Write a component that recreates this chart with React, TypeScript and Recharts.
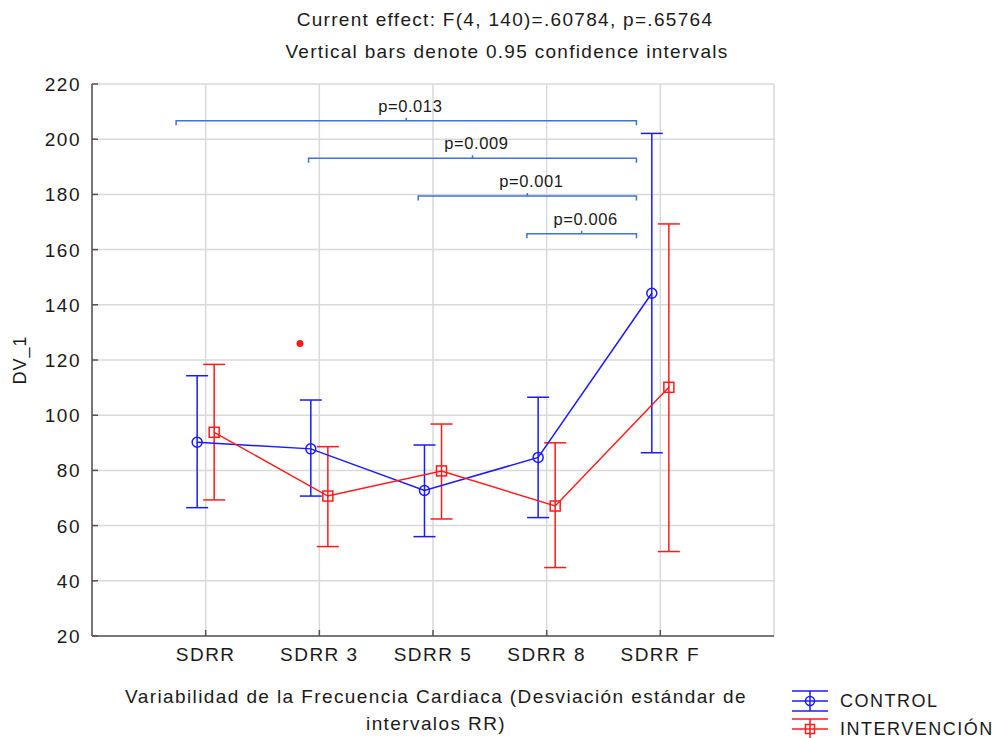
import {
  ComposedChart,
  Scatter,
  ErrorBar,
  XAxis,
  YAxis,
  CartesianGrid,
  ReferenceLine,
} from "recharts"

const categories = ["SDRR", "SDRR 3", "SDRR 5", "SDRR 8", "SDRR F"]
const categoryPos = [1, 2, 3, 4, 5]

const controlMean = [90.2, 87.8, 72.7, 84.7, 144.2]
const controlLow = [66.5, 70.7, 56, 62.9, 86.4]
const controlHigh = [114.3, 105.5, 89.2, 106.5, 202.1]

const intervMean = [93.8, 70.7, 79.8, 67.1, 110.1]
const intervLow = [69.3, 52.4, 62.4, 44.8, 50.6]
const intervHigh = [118.4, 88.6, 96.8, 90, 169.3]

// stray point next to SDRR 3
const outlierX = [1.83]
const outlierY = [126]

const bracketLabels = ["p=0.013", "p=0.009", "p=0.001", "p=0.006"]
const bracketFrom = [0.74, 1.905, 2.87, 3.826]
const bracketTo = [4.79, 4.79, 4.79, 4.79]
const bracketLevel = [206.7, 193.1, 179.4, 165.7]

const yTicks = [20, 40, 60, 80, 100, 120, 140, 160, 180, 200, 220]

const BLUE = "#1a1aff"
const RED = "#ff1a1a"
const BRACKET = "#3f72d6"
const FRAME = "#555555"
const FONT = '"Liberation Sans", Arial, sans-serif'

const groupOffset = 0.075

const controlData = categoryPos.map((p, i) => ({
  x: p - groupOffset,
  y: controlMean[i],
  err: [controlMean[i] - controlLow[i], controlHigh[i] - controlMean[i]],
}))

const intervData = categoryPos.map((p, i) => ({
  x: p + groupOffset,
  y: intervMean[i],
  err: [intervMean[i] - intervLow[i], intervHigh[i] - intervMean[i]],
}))

const outlierData = outlierX.map((x, i) => ({ x, y: outlierY[i] }))

const tickFont = {
  fontSize: 19,
  fill: "#1a1a1a",
  fontFamily: FONT,
  letterSpacing: 1.5,
}

// ticks point into the plot, labels sit outside
function BottomTick(props: any) {
  const { x, y, payload } = props
  const label = categories[categoryPos.indexOf(payload.value)] ?? ""
  return (
    <g>
      <line x1={x} y1={y - 10} x2={x} y2={y - 16} stroke={FRAME} strokeWidth={1.5} />
      <text x={x} y={y + 15} textAnchor="middle" {...tickFont}>
        {label}
      </text>
    </g>
  )
}

function LeftTick(props: any) {
  const { x, y, payload } = props
  return (
    <g>
      <line x1={x + 11} y1={y} x2={x + 17} y2={y} stroke={FRAME} strokeWidth={1.5} />
      <text x={x} y={y + 7} textAnchor="end" {...tickFont}>
        {payload.value}
      </text>
    </g>
  )
}

function TopTick(props: any) {
  const { x, y } = props
  return <line x1={x} y1={y} x2={x} y2={y + 6} stroke={FRAME} strokeWidth={1.5} />
}

function RightTick(props: any) {
  const { x, y } = props
  return <line x1={x} y1={y} x2={x - 5} y2={y} stroke={FRAME} strokeWidth={1.5} />
}

function CircleMark(props: any) {
  const { cx, cy } = props
  return <circle cx={cx} cy={cy} r={5} fill="none" stroke={BLUE} strokeWidth={1.5} />
}

function SquareMark(props: any) {
  const { cx, cy } = props
  return (
    <rect x={cx - 5} y={cy - 5} width={10} height={10} fill="none" stroke={RED} strokeWidth={1.5} />
  )
}

function DotMark(props: any) {
  const { cx, cy } = props
  return <circle cx={cx} cy={cy} r={3.5} fill={RED} />
}

function Bracket(props: any) {
  const { x1, y1, x2 } = props
  const mid = (x1 + x2) / 2
  return (
    <path
      d={`M${x1},${y1 + 4.5} L${x1},${y1} L${x2},${y1} L${x2},${y1 + 4.5} M${mid},${y1} L${mid},${y1 - 3}`}
      fill="none"
      stroke={BRACKET}
      strokeWidth={1.5}
    />
  )
}

function LegendSymbol({ color, kind }: { color: string; kind: "circle" | "square" }) {
  return (
    <svg width={38} height={24} style={{ display: "block" }}>
      <line x1={1} y1={2} x2={37} y2={2} stroke={color} strokeWidth={1.5} />
      <line x1={1} y1={22} x2={37} y2={22} stroke={color} strokeWidth={1.5} />
      <line x1={19} y1={2} x2={19} y2={22} stroke={color} strokeWidth={1.5} />
      <line x1={1} y1={12} x2={37} y2={12} stroke={color} strokeWidth={1.5} />
      {kind === "circle" ? (
        <circle cx={19} cy={12} r={4.5} fill="none" stroke={color} strokeWidth={1.5} />
      ) : (
        <rect x={14.5} y={7.5} width={9} height={9} fill="none" stroke={color} strokeWidth={1.5} />
      )}
    </svg>
  )
}

const textBase = {
  position: "absolute" as const,
  fontFamily: FONT,
  color: "#1a1a1a",
  whiteSpace: "nowrap" as const,
  lineHeight: 1,
}

export default function App() {
  return (
    <div style={{ position: "absolute", left: 0, top: 0, width: 1002, height: 738, background: "#fff" }}>
      <div style={{ ...textBase, left: 0, width: 1010, top: 10, textAlign: "center", fontSize: 19, letterSpacing: 1.3 }}>
        Current effect: F(4, 140)=.60784, p=.65764
      </div>
      <div style={{ ...textBase, left: 0, width: 1014, top: 42, textAlign: "center", fontSize: 19, letterSpacing: 1.3 }}>
        Vertical bars denote 0.95 confidence intervals
      </div>

      <div style={{ position: "absolute", left: 0, top: 0 }}>
        <ComposedChart
          width={1002}
          height={738}
          margin={{ top: 84, right: 228, bottom: 62, left: 32 }}
        >
          <CartesianGrid stroke="#d9d9d9" strokeWidth={1.5} />
          <XAxis
            xAxisId={0}
            type="number"
            dataKey="x"
            domain={[0, 6]}
            ticks={categoryPos}
            height={40}
            stroke={FRAME}
            strokeWidth={1.5}
            tickLine={false}
            tickSize={0}
            tickMargin={10}
            tick={BottomTick}
            allowDataOverflow
          />
          <XAxis
            xAxisId="top"
            orientation="top"
            type="number"
            domain={[0, 6]}
            ticks={categoryPos}
            height={0}
            stroke={FRAME}
            strokeWidth={1.5}
            tickLine={false}
            tickSize={0}
            tickMargin={0}
            tick={TopTick}
          />
          <YAxis
            yAxisId={0}
            type="number"
            dataKey="y"
            domain={[20, 220]}
            ticks={yTicks}
            interval={0}
            width={60}
            stroke={FRAME}
            strokeWidth={1.5}
            tickLine={false}
            tickSize={0}
            tickMargin={11}
            tick={LeftTick}
            allowDataOverflow
          />
          <YAxis
            yAxisId="right"
            orientation="right"
            type="number"
            domain={[20, 220]}
            ticks={yTicks}
            interval={0}
            width={0}
            stroke={FRAME}
            strokeWidth={1.5}
            tickLine={false}
            tickSize={0}
            tickMargin={0}
            tick={RightTick}
          />

          {bracketLabels.map((label, i) => (
            <ReferenceLine
              key={label}
              segment={[
                { x: bracketFrom[i], y: bracketLevel[i] },
                { x: bracketTo[i], y: bracketLevel[i] },
              ]}
              shape={Bracket}
              ifOverflow="visible"
              label={{
                value: label,
                position: "top",
                offset: 9,
                dx: 4,
                fill: "#1a1a1a",
                fontSize: 16.5,
                fontFamily: FONT,
                letterSpacing: 0.6,
              }}
            />
          ))}

          <Scatter
            name="CONTROL"
            data={controlData}
            line={{ stroke: BLUE, strokeWidth: 1.5 }}
            lineType="joint"
            shape={CircleMark}
            fill={BLUE}
            isAnimationActive={false}
          >
            <ErrorBar dataKey="err" direction="y" width={11} stroke={BLUE} strokeWidth={1.5} isAnimationActive={false} />
          </Scatter>
          <Scatter
            name="INTERVENCIÓN"
            data={intervData}
            line={{ stroke: RED, strokeWidth: 1.5 }}
            lineType="joint"
            shape={SquareMark}
            fill={RED}
            isAnimationActive={false}
          >
            <ErrorBar dataKey="err" direction="y" width={11} stroke={RED} strokeWidth={1.5} isAnimationActive={false} />
          </Scatter>
          <Scatter data={outlierData} shape={DotMark} fill={RED} isAnimationActive={false} />
        </ComposedChart>
      </div>

      <div
        style={{
          ...textBase,
          left: 20,
          top: 360,
          fontSize: 18,
          letterSpacing: 1,
          transform: "translate(-50%, -50%) rotate(-90deg)",
        }}
      >
        DV_1
      </div>

      <div style={{ ...textBase, left: 0, width: 872, top: 687, textAlign: "center", fontSize: 19, letterSpacing: 1.4 }}>
        Variabilidad de la Frecuencia Cardiaca (Desviación estándar de
      </div>
      <div style={{ ...textBase, left: 0, width: 872, top: 714, textAlign: "center", fontSize: 19, letterSpacing: 1.4 }}>
        intervalos RR)
      </div>

      <div style={{ position: "absolute", left: 791, top: 689 }}>
        <LegendSymbol color={BLUE} kind="circle" />
      </div>
      <div style={{ ...textBase, left: 840, top: 692, fontSize: 18, letterSpacing: 1.5 }}>CONTROL</div>
      <div style={{ position: "absolute", left: 791, top: 717 }}>
        <LegendSymbol color={RED} kind="square" />
      </div>
      <div style={{ ...textBase, left: 840, top: 720, fontSize: 18, letterSpacing: 1.5 }}>INTERVENCIÓN</div>
    </div>
  )
}
